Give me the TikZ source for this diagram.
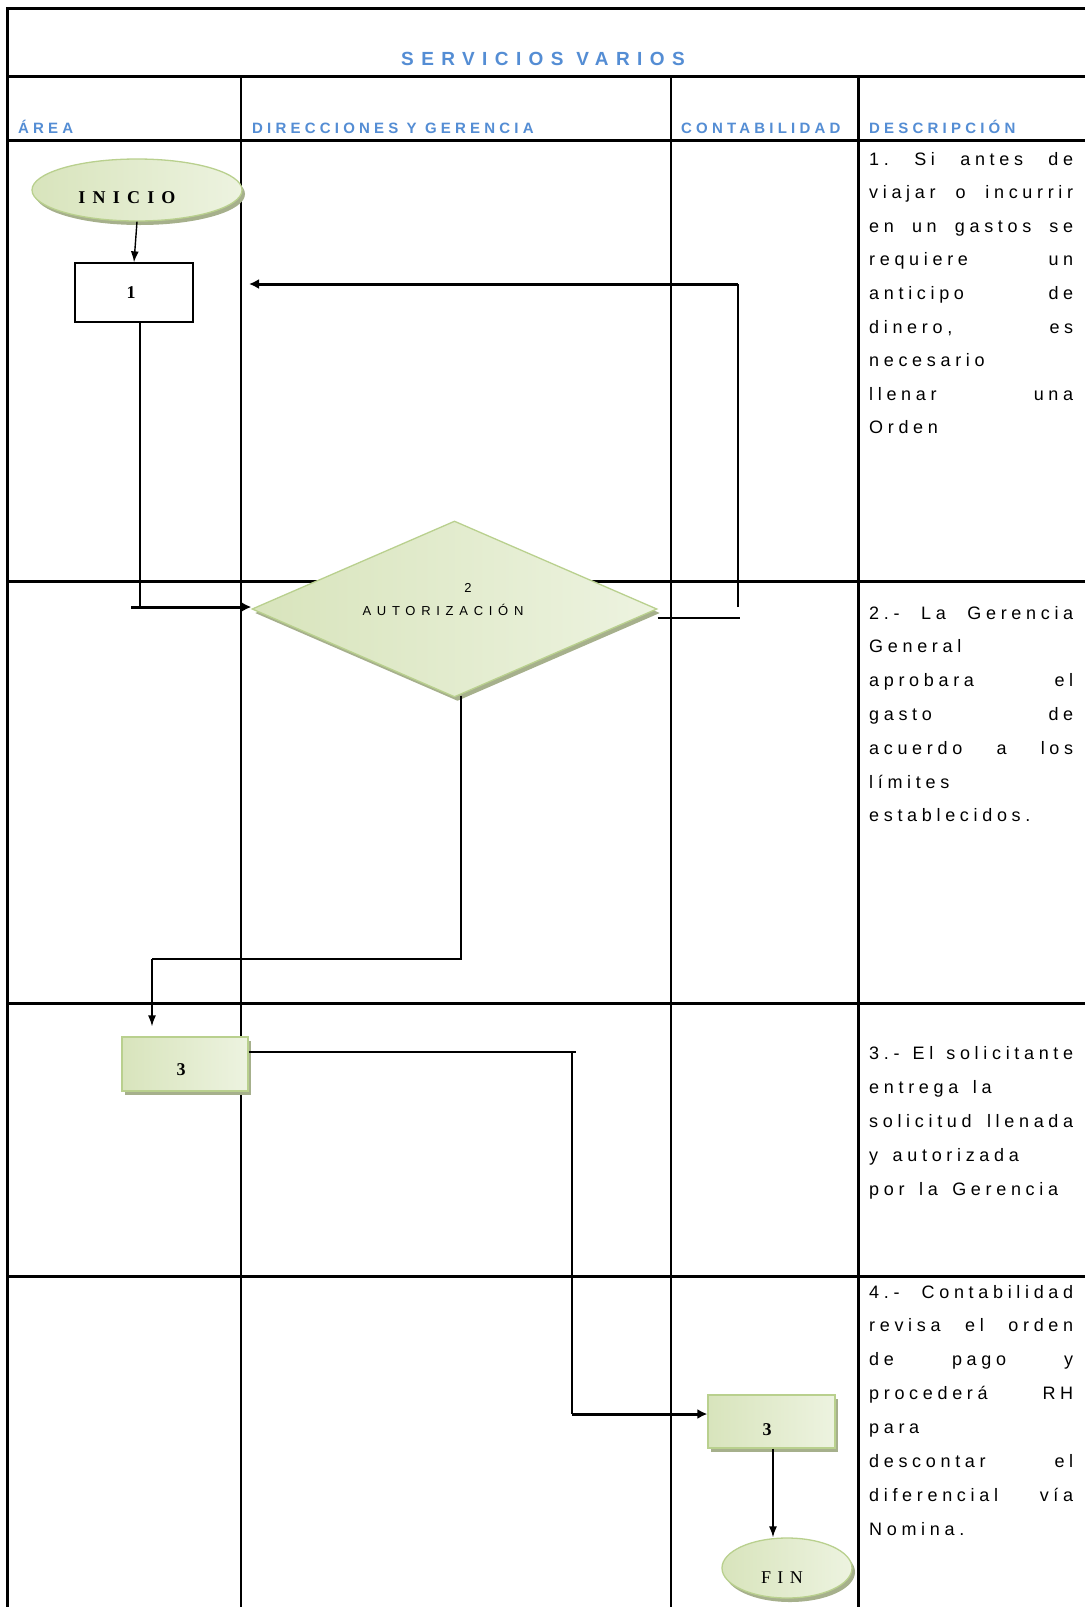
\documentclass[tikz,border=0pt]{standalone}
\usepackage{fontspec}
\setmainfont{Liberation Serif}
\newfontfamily\descfont[LetterSpace=26,WordSpace=1.5]{Liberation Sans}
\newfontfamily\headfont[LetterSpace=28]{Liberation Sans}
\newfontfamily\titlefont[LetterSpace=39]{Liberation Sans}
\newfontfamily\diafont[LetterSpace=44]{Liberation Sans}
\newfontfamily\inifont[LetterSpace=40]{Liberation Serif}
\newfontfamily\finfont[LetterSpace=36]{Liberation Serif}
\usetikzlibrary{shapes.geometric,arrows.meta,calc,shadows}
\definecolor{tblue}{RGB}{84,141,212}
\definecolor{gborder}{RGB}{185,208,142}
\definecolor{gdark}{RGB}{216,228,188}
\definecolor{glight}{RGB}{237,243,224}
\definecolor{gshadow}{RGB}{166,176,140}
\newcommand{\jline}[1]{\makebox[204pt][s]{#1}}
\frenchspacing
\begin{document}
\begin{tikzpicture}[x=1pt,y=-1pt,
  gridthick/.style={line width=3pt},
  gridthin/.style={line width=2pt},
  gshape/.style={draw=gborder, line width=1.3pt, left color=gdark, right color=glight, inner sep=0pt,
     drop shadow={shadow xshift=3pt, shadow yshift=-4pt, fill=gshadow, opacity=1}},
  conn/.style={line width=1.4pt},
  connb/.style={line width=3pt},
  arr/.style={-{Latex[length=11pt,width=8pt]}},
  arrb/.style={-{Latex[length=10pt,width=10pt]}},
  desc/.style={anchor=base west, inner sep=0pt, font=\descfont\frenchspacing\fontsize{18}{20}\selectfont},
  head/.style={anchor=base west, inner sep=0pt, font=\headfont\bfseries\fontsize{15}{17}\selectfont, text=tblue},
  nodetext/.style={inner sep=0pt, font=\bfseries\fontsize{18}{20}\selectfont}
]
\useasboundingbox (0,0) rectangle (1085,1607);
\fill[white] (0,0) rectangle (1085,1607);

% table
\draw[gridthick] (7,1607) -- (7,8) -- (1085,8);
\draw[gridthick] (7,76) -- (1085,76);
\draw[gridthick] (7,140.5) -- (1085,140.5);
\draw[gridthick] (7,581) -- (1085,581);
\draw[gridthick] (7,1003) -- (1085,1003);
\draw[gridthick] (7,1276) -- (1085,1276);
\draw[gridthin] (241,76) -- (241,1607);
\draw[gridthin] (671,76) -- (671,1607);
\draw[gridthick] (858,76) -- (858,1607);

% title and headers
\node[font=\titlefont\bfseries\fontsize{19}{22}\selectfont, text=tblue, anchor=base, inner sep=0pt] (title) at (543,65) {SERVICIOS VARIOS};
\node[head] (h1) at (18,133.5) {ÁREA};
\node[head] (h2) at (252,133.5) {DIRECCIONES Y GERENCIA};
\node[head] (h3) at (681,133.5) {CONTABILIDAD};
\node[head] (h4) at (869,133.5) {DESCRIPCIÓN};

% shapes
\node[gshape, ellipse, minimum width=210pt, minimum height=62pt] (inicio) at (137,190) {};
\node[draw, line width=1.3pt, fill=white, minimum width=118pt, minimum height=59pt, inner sep=0pt] (box1) at (134,292.5) {};
\node[gshape, diamond, minimum width=405pt, minimum height=176pt] (dia) at (454.5,609) {};
\node[gshape, rectangle, minimum width=126pt, minimum height=54pt] (box3) at (185,1064) {};
\node[gshape, rectangle, minimum width=127pt, minimum height=53pt] (box4) at (771.5,1421.5) {};
\node[gshape, ellipse, minimum width=130pt, minimum height=60pt] (fin) at (787,1568) {};

% shape texts
\node[nodetext, font=\inifont\bfseries\fontsize{18}{20}\selectfont] (tini) at (127,198) {INICIO};
\node[nodetext] (t1) at (131,293) {1};
\node[inner sep=0pt, font=\diafont\fontsize{13}{15}\selectfont] (t2n) at (468,588) {2};
\node[inner sep=0pt, font=\diafont\fontsize{13}{15}\selectfont] (t2) at (443,610) {AUTORIZACIÓN};
\node[nodetext] (t3) at (181,1070) {3};
\node[nodetext] (t4) at (767,1430) {3};
\node[inner sep=0pt, font=\finfont\fontsize{18}{20}\selectfont] (tfin) at (782,1578) {FIN};

% connectors
\coordinate (k0) at (131,607);
\coordinate (k1) at (140,607);
\coordinate (r2) at (740,618);
\coordinate (r3) at (738,607);
\coordinate (r4) at (738,284);
\coordinate (r5) at (249,284);
\coordinate (b1) at (461,959);
\coordinate (b2) at (152,959);
\coordinate (c1) at (576,1052);
\coordinate (c2) at (572,1052);
\coordinate (c3) at (572,1414);
\coordinate (f1) at (773,1500);

\draw[conn, arr] (inicio.south) -- (box1.north);
\draw[conn] (box1.south -| k1) -- (k1);
\draw[connb, arrb] (k0) -- (k0 -| dia.west);
\draw[conn] (dia.east |- r2) -- (r2);
\draw[conn] (r3) -- (r4);
\draw[connb, arrb] (r4) -- (r5);
\draw[conn] ($(dia.south -| b1)+(0,-2)$) -- (b1) -- (b2);
\draw[conn, arr, shorten >=10pt] (b2) -- (b2 |- box3.north);
\draw[conn] (box3.east |- c1) -- (c1);
\draw[conn] (c2) -- (c3);
\draw[connb, arrb] (c3) -- (c3 -| box4.west);
\draw[conn, arr] (box4.south -| f1) -- (fin.north -| f1);

% descriptions
\foreach \t [count=\i from 0] in {{\jline{1. Si antes de}},{\jline{viajar o incurrir}},{\jline{en un gastos se}},{\jline{requiere un}},{\jline{anticipo de}},{\jline{dinero, es}},{necesario},{\jline{llenar una}},{Orden}}
  \node[desc] (da\i) at (869,165+33.6*\i) {\t};
\foreach \t [count=\i from 0] in {{\jline{2.- La Gerencia}},{General},{\jline{aprobara el}},{\jline{gasto de}},{\jline{acuerdo a los}},{límites},{establecidos.}}
  \node[desc] (db\i) at (869,619+33.8*\i) {\t};
\foreach \t [count=\i from 0] in {{\jline{3.- El solicitante}},{entrega la},{\jline{solicitud llenada}},{y autorizada},{por la Gerencia}}
  \node[desc] (dc\i) at (869,1059+34.2*\i) {\t};
\foreach \t [count=\i from 0] in {{\jline{4.- Contabilidad}},{\jline{revisa el orden}},{\jline{de pago y}},{\jline{procederá RH}},{para},{\jline{descontar el}},{\jline{diferencial vía}},{Nomina.}}
  \node[desc] (dd\i) at (869,1298+33.9*\i) {\t};
\end{tikzpicture}
\end{document}
